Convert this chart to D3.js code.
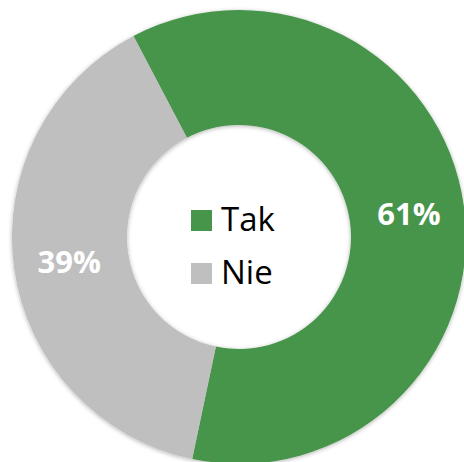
<!DOCTYPE html>
<html>
<head>
<meta charset="utf-8">
<script src="https://d3js.org/d3.v7.min.js"></script>
<style>
  body { margin: 0; background: #fff; }
  .pct { fill: #fff; font-family: "Open Sans", sans-serif; font-weight: 700; font-size: 31px; }
  .leg { fill: #000; font-family: "Open Sans", sans-serif; font-size: 33px; }
</style>
</head>
<body>
<div id="chart"></div>
<script>
// data
var categories = ["Tak", "Nie"];
var values = [61, 39];
var colors = ["#47944b", "#bfbfbf"];

var W = 464, H = 462;
var cx = 239, cy = 237, outerR = 227, innerR = 112;
var startDeg = -27.7;

var svg = d3.select("#chart").append("svg")
    .attr("width", W).attr("height", H);

var defs = svg.append("defs");
var f = defs.append("filter").attr("id", "shadow")
    .attr("x", "-10%").attr("y", "-10%").attr("width", "120%").attr("height", "120%");
f.append("feDropShadow").attr("dx", 0).attr("dy", 1)
    .attr("stdDeviation", 2).attr("flood-color", "#000").attr("flood-opacity", 0.3);

var g = svg.append("g").attr("transform", "translate(" + cx + "," + cy + ")");

var pie = d3.pie().sort(null)
    .startAngle(startDeg * Math.PI / 180)
    .endAngle(startDeg * Math.PI / 180 + 2 * Math.PI);
var arc = d3.arc().innerRadius(innerR).outerRadius(outerR);
var arcs = pie(values);

g.append("g").attr("filter", "url(#shadow)")
  .selectAll("path").data(arcs).enter().append("path")
    .attr("d", arc)
    .attr("fill", function(d, i) { return colors[i]; });

// percentage labels
var labelArc = d3.arc().innerRadius((innerR + outerR) / 2 + 2).outerRadius((innerR + outerR) / 2 + 2);
var total = d3.sum(values);
g.selectAll(".pct").data(arcs).enter().append("text")
    .attr("class", "pct")
    .attr("text-anchor", "middle")
    .attr("dominant-baseline", "central")
    .attr("transform", function(d) {
        var c = labelArc.centroid(d);
        return "translate(" + c[0] + "," + c[1] + ")";
    })
    .text(function(d) { return Math.round(d.value / total * 100) + "%"; });

// legend in the hole
var legend = svg.append("g").attr("transform", "translate(191,210)");
var item = legend.selectAll("g").data(categories).enter().append("g")
    .attr("transform", function(d, i) { return "translate(0," + (i * 53) + ")"; });
item.append("rect").attr("width", 21).attr("height", 21)
    .attr("fill", function(d, i) { return colors[i]; });
item.append("text").attr("class", "leg")
    .attr("x", 30).attr("y", 21)
    .text(function(d) { return d; });
</script>
</body>
</html>
